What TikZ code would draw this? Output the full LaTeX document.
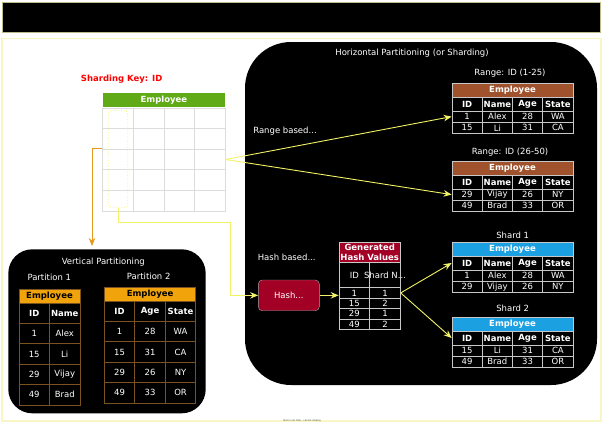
\documentclass[tikz,border=0pt]{standalone}
\usepackage{fontspec}
\setmainfont{DejaVu Sans}
\usepackage{xcolor}
\usepackage{tikz}
\usetikzlibrary{arrows.meta, positioning, calc}
\newcommand{\diagfont}{\fontsize{8.5}{10}\selectfont}
\definecolor{sienna}{HTML}{A0522D}
\definecolor{cyanblue}{HTML}{1BA1E2}
\definecolor{hashred}{HTML}{A20025}
\definecolor{leafgreen}{HTML}{60A917}
\definecolor{amber}{HTML}{F0A30A}
\definecolor{cellgrey}{HTML}{C8C8C8}
\definecolor{gridgrey}{HTML}{DCDCDC}
\definecolor{brownline}{HTML}{7A5220}
\definecolor{arrowyellow}{HTML}{F2F266}
\definecolor{keyorange}{HTML}{E59A1E}
\definecolor{framecream}{HTML}{F8F6C4}
\definecolor{bannerline}{HTML}{BDBB8C}
\tikzset{
    pageframe/.style={
        rectangle,
        draw=framecream,
        line width=1.2pt,
        inner sep=0pt
    },
    panel/.style={
        rectangle,
        fill=black,
        inner sep=0pt
    },
    caption/.style={
        font=\diagfont,
        text=white,
        inner sep=0pt
    },
    tblhead/.style={
        rectangle,
        draw=cellgrey,
        line width=0.7pt,
        minimum width=121pt,
        minimum height=14pt,
        inner sep=0pt,
        text=white,
        font=\diagfont\bfseries
    },
    tblcol/.style={
        rectangle,
        draw=cellgrey,
        line width=0.7pt,
        minimum width=30.25pt,
        minimum height=14pt,
        inner sep=0pt,
        text=white,
        font=\diagfont\bfseries
    },
    tblcell/.style={
        tblcol,
        minimum height=11.2pt,
        font=\diagfont
    },
    gridcell/.style={
        rectangle,
        draw=gridgrey,
        line width=0.7pt,
        minimum width=30.6pt,
        minimum height=20.6pt,
        inner sep=0pt
    },
    keybox/.style={
        rectangle,
        draw=arrowyellow,
        dotted,
        line width=0.8pt,
        rounded corners=3pt,
        minimum width=19.4pt,
        minimum height=96.6pt
    },
    vhead/.style={
        rectangle,
        draw=brownline,
        fill=amber,
        line width=0.7pt,
        minimum height=14pt,
        inner sep=0pt,
        font=\diagfont\bfseries
    },
    vcell/.style={
        rectangle,
        draw=brownline,
        line width=0.7pt,
        minimum width=30.5pt,
        minimum height=20.4pt,
        inner sep=0pt,
        text=white,
        font=\diagfont
    },
    hvhead/.style={
        rectangle,
        draw=cellgrey,
        fill=hashred,
        line width=0.7pt,
        minimum width=61.3pt,
        minimum height=20.3pt,
        inner sep=0pt,
        align=center,
        text=white,
        font=\diagfont\bfseries
    },
    hvcell/.style={
        rectangle,
        draw=cellgrey,
        line width=0.7pt,
        minimum width=30.65pt,
        minimum height=10.4pt,
        inner sep=0pt,
        text=white,
        font=\diagfont
    },
    hashbox/.style={
        rectangle,
        draw=gray!70,
        fill=hashred,
        rounded corners=4pt,
        minimum width=61pt,
        minimum height=30.7pt,
        text=white,
        font=\diagfont
    },
    ptr/.style={
        draw=arrowyellow,
        line width=0.9pt,
        -{Stealth[length=8pt,width=6.5pt]}
    },
    keyptr/.style={
        draw=keyorange,
        line width=0.9pt,
        -{Stealth[length=8pt,width=6.5pt]}
    }
}
\begin{document}
\begin{tikzpicture}[x=1pt,y=-1pt]
\useasboundingbox (0,0) rectangle (604,424);

% frames and panels
\node[panel, draw=bannerline, line width=1pt, minimum width=598pt, minimum height=30.3pt] (banner) at (301,17.15) {};
\node[pageframe, minimum width=599pt, minimum height=382.5pt] (page) at (301.5,229.8) {};
\node[panel, rounded corners=46pt, minimum width=352pt, minimum height=343pt] (hp) at (421,213.5) {};
\node[panel, rounded corners=24pt, minimum width=197.4pt, minimum height=164pt] (vp) at (107,331.3) {};
\node[font=\fontsize{2.4}{3}\selectfont, text=black!70, inner sep=0pt] (note) at (302,421.3) {Text is not SVG - cannot display};

% source table
\node[font=\diagfont\bfseries, text=red, inner sep=0pt] (shkey) at (121.7,79) {Sharding Key: ID};
\node[tblhead, draw=none, fill=leafgreen, minimum width=122.4pt] (emp) at (163.9,100.3) {Employee};
\foreach \i in {1,...,5}
  \foreach \j in {1,...,4}
    \node[gridcell] (emp-\i-\j) at ({102.7+30.6*(\j-0.5)},{108+20.6*(\i-0.5)}) {};
\node[keybox] (idcol) at (118,159) {};

% horizontal partitioning
\node[caption] (hptitle) at (412,52.7) {Horizontal Partitioning (or Sharding)};
\node[caption] (rngAlbl) at (510,73) {Range: ID (1-25)};
\node[caption] (rngBlbl) at (510,151.7) {Range: ID (26-50)};
\node[caption] (shdAlbl) at (512.7,235) {Shard 1};
\node[caption] (shdBlbl) at (512.7,308.7) {Shard 2};
\node[caption] (rngtxt) at (285,131) {Range based...};
\node[caption] (hashtxt) at (286.7,257.7) {Hash based...};

\foreach \tb/\top/\hue/\rowa/\rowb in {
    rngA/83/sienna/{1,Alex,28,WA}/{15,Li,31,CA},
    rngB/161/sienna/{29,Vijay,26,NY}/{49,Brad,33,OR},
    shdA/242/cyanblue/{1,Alex,28,WA}/{29,Vijay,26,NY},
    shdB/317/cyanblue/{15,Li,31,CA}/{49,Brad,33,OR}} {
  \node[tblhead, fill=\hue] (\tb) at (512.5,\top+7) {Employee};
  \foreach \t [count=\j] in {ID,Name,Age,State}
    \node[tblcol] (\tb-0-\j) at ({452+30.25*(\j-0.5)},\top+21) {\t};
  \foreach \t [count=\j] in \rowa
    \node[tblcell] (\tb-1-\j) at ({452+30.25*(\j-0.5)},\top+33.6) {\t};
  \foreach \t [count=\j] in \rowb
    \node[tblcell] (\tb-2-\j) at ({452+30.25*(\j-0.5)},\top+44.8) {\t};
}

% hash values
\node[hashbox] (hash) at (288.8,295.35) {Hash...};
\node[hvhead] (hashval) at (369.7,252.15) {Generated\\Hash Values};
\node[hvcell, minimum height=25.4pt] (hv-0-1) at (354.35,275) {ID};
\node[hvcell, minimum height=25.4pt, label={[caption]center:Shard N...}] (hv-0-2) at (385,275) {};
\foreach \a/\b [count=\i] in {1/1,15/2,29/1,49/2} {
  \node[hvcell] (hv-\i-1) at (354.35,{287.7+10.4*(\i-0.5)}) {\a};
  \node[hvcell] (hv-\i-2) at (385,{287.7+10.4*(\i-0.5)}) {\b};
}

% vertical partitioning
\node[caption] (vptitle) at (103.3,261.7) {Vertical Partitioning};
\node[caption] (partAlbl) at (49.3,277.7) {Partition 1};
\node[caption] (partBlbl) at (148.7,276) {Partition 2};

\node[vhead, minimum width=61pt] (partA) at (49.5,296) {Employee};
\foreach \t [count=\j] in {ID,Name}
  \node[vcell, font=\diagfont\bfseries] (partA-0-\j) at ({19+30.5*(\j-0.5)},313.2) {\t};
\foreach \a/\b [count=\i] in {1/Alex,15/Li,29/Vijay,49/Brad} {
  \node[vcell] (partA-\i-1) at (34.25,{323.4+20.4*(\i-0.5)}) {\a};
  \node[vcell] (partA-\i-2) at (64.75,{323.4+20.4*(\i-0.5)}) {\b};
}

\node[vhead, minimum width=91.5pt] (partB) at (150.05,294) {Employee};
\foreach \t [count=\j] in {ID,Age,State}
  \node[vcell, font=\diagfont\bfseries] (partB-0-\j) at ({104.3+30.5*(\j-0.5)},311.2) {\t};
\foreach \a/\b/\c [count=\i] in {1/28/WA,15/31/CA,29/26/NY,49/33/OR} {
  \node[vcell] (partB-\i-1) at (119.55,{321.4+20.4*(\i-0.5)}) {\a};
  \node[vcell] (partB-\i-2) at (150.05,{321.4+20.4*(\i-0.5)}) {\b};
  \node[vcell] (partB-\i-3) at (180.55,{321.4+20.4*(\i-0.5)}) {\c};
}

% connectors
\coordinate (vdrop) at (92,246);
\coordinate (hbend) at (230,222.5);
\draw[keyptr] (emp-3-1.north west) -| (vdrop);
\draw[ptr] (idcol.south) |- (hbend) |- (hash.west);
\draw[ptr] (emp-3-4.east) -- (rngA-1-1.west);
\draw[ptr] (emp-3-4.east) -- (rngB-1-1.west);
\draw[ptr] (hash.east) -- (hash.east -| hv-1-1.west);
\draw[ptr] (hv-1-2.east) -- (shdA-0-1.west);
\draw[ptr] (hv-1-2.east) -- (shdB-0-1.west);

\end{tikzpicture}
\end{document}
